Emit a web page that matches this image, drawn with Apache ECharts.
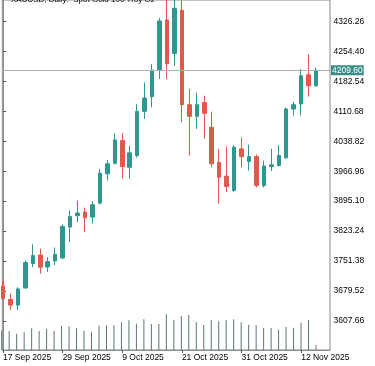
<!DOCTYPE html>
<html>
<head>
<meta charset="utf-8">
<script src="https://cdn.jsdelivr.net/npm/echarts@6/dist/echarts.min.js"></script>
<style>
html,body{margin:0;padding:0;background:#fff;}
#c{width:375px;height:366px;}
</style>
</head>
<body>
<div id="c"></div>
<script>
var dates = ['17 Sep 2025','18 Sep 2025','19 Sep 2025','22 Sep 2025','23 Sep 2025','24 Sep 2025','25 Sep 2025','26 Sep 2025','29 Sep 2025','30 Sep 2025',
  '1 Oct 2025','2 Oct 2025','3 Oct 2025','6 Oct 2025','7 Oct 2025','8 Oct 2025','9 Oct 2025','10 Oct 2025','13 Oct 2025','14 Oct 2025',
  '15 Oct 2025','16 Oct 2025','17 Oct 2025','20 Oct 2025','21 Oct 2025','22 Oct 2025','23 Oct 2025','24 Oct 2025','27 Oct 2025','28 Oct 2025',
  '29 Oct 2025','30 Oct 2025','31 Oct 2025','3 Nov 2025','4 Nov 2025','5 Nov 2025','6 Nov 2025','7 Nov 2025','10 Nov 2025','11 Nov 2025',
  '12 Nov 2025','13 Nov 2025','14 Nov 2025'];
var opens  = [3690.8,3658.9,3645.3,3686.7,3745.2,3765.8,3737.0,3751.4,3758.6,3832.8,
  3860.1,3868.8,3856.8,3890.3,3960.7,3986.1,4040.5,3976.5,4004.6,4110.7,
  4145.9,4209.8,4330.3,4249.6,4353.6,4126.7,4098.7,4132.2,4072.4,3988.5,
  3955.0,3920.7,4020.6,3990.2,4002.2,3932.7,3978.2,3980.6,3999.1,4116.4,
  4128.4,4198.6,4172.2];
var highs  = [3704.0,3673.3,3688.4,3753.1,3791.4,3781.1,3761.0,3783.5,3839.3,3872.8,
  3896.8,3879.3,3895.1,3972.7,3994.3,4058.0,4058.0,4028.5,4128.0,4180.1,
  4224.2,4335.0,4380.0,4381.0,4377.0,4164.3,4156.2,4148.3,4110.0,4020.6,
  4026.1,4030.0,4047.7,4030.9,4007.0,3992.6,4020.6,4029.7,4119.5,4134.0,
  4212.2,4248.2,4215.4];
var lows   = [3659.0,3633.3,3633.3,3683.6,3737.0,3721.2,3725.0,3741.1,3755.5,3796.9,
  3844.1,3820.8,3841.0,3887.2,3944.7,3983.0,3948.8,3948.8,3999.8,4092.5,
  4120.3,4188.3,4188.3,4220.1,4084.3,4004.6,4068.5,4044.6,3976.5,3888.9,
  3916.7,3916.7,3975.8,3968.6,3927.9,3927.9,3967.4,3978.2,3997.0,4100.4,
  4100.4,4145.9,4169.8];
var closes = [3661.3,3645.3,3684.3,3747.6,3764.3,3736.3,3749.9,3767.4,3834.5,3858.4,
  3866.4,3855.3,3886.5,3962.2,3984.7,4042.2,3978.2,4011.0,4110.7,4142.8,
  4209.8,4327.9,4225.7,4358.3,4126.7,4098.7,4126.7,4105.9,3984.7,3952.6,
  3930.3,4024.5,4002.2,4002.2,3932.7,3979.4,3982.3,4004.6,4116.4,4126.7,
  4196.2,4172.2,4209.6];
var volumes = [98000,95000,81500,88500,108500,95000,105000,95000,120000,118500,
  108500,96500,91500,121500,123500,123500,138500,148500,131500,153500,
  130000,130000,178500,151500,170000,175000,140000,125000,150000,143500,
  148500,153500,138500,126500,125000,110000,110000,101500,115000,111500,
  136500,150000,25000];
var priceTicks = [3607.66,3679.52,3751.38,3823.24,3895.10,3966.96,4038.82,4110.68,4182.54,4254.40,4326.26];
var dateTickIdx = [0,8,16,24,32,40];
var lastPrice = 4209.60;
var titleText = 'XAUUSD, Daily:  Spot Gold 100 Troy Oz';

var candleData = [];
var volData = [];
for (var i = 0; i < dates.length; i++) {
  candleData.push([i, opens[i], closes[i], lows[i], highs[i]]);
  volData.push([i, volumes[i]]);
}

var FONT = 'Liberation Sans';
var UP = '#2f978f', DOWN = '#dc5b4b';
var xMin = -0.0935, xMax = 43.87;

var chart = echarts.init(document.getElementById('c'), null, {renderer: 'canvas'});
chart.setOption({
  animation: false,
  backgroundColor: '#ffffff',
  title: {
    text: titleText, left: 6, top: -9, padding: 5,
    textStyle: {fontFamily: FONT, fontSize: 8, fontWeight: 'normal', color: '#000'}
  },
  grid: [
    {left: 1, right: 45, top: -1, bottom: 16, show: true, borderColor: '#8a8a8a', borderWidth: 1, backgroundColor: 'transparent'},
    {left: 1, right: 45, bottom: 16, height: 40}
  ],
  xAxis: [
    {
      type: 'value', gridIndex: 0, min: xMin, max: xMax,
      splitLine: {show: false},
      axisLine: {show: true, lineStyle: {color: '#8a8a8a', width: 1}},
      axisTick: {show: true, inside: false, length: 3, customValues: dateTickIdx, lineStyle: {color: '#555'}},
      axisLabel: {
        show: true, customValues: dateTickIdx, align: 'left', margin: 3,
        fontFamily: FONT, fontSize: 8.5, color: '#000',
        formatter: function (v) { return dates[Math.round(v)] || ''; }
      }
    },
    {
      type: 'value', gridIndex: 1, min: xMin, max: xMax,
      show: false
    }
  ],
  yAxis: [
    {
      type: 'value', gridIndex: 0, position: 'right', min: 3537.5, max: 4378.2, scale: true,
      splitLine: {show: false},
      axisLine: {show: true, lineStyle: {color: '#8a8a8a', width: 1}},
      axisTick: {show: true, inside: false, length: 3, customValues: priceTicks, lineStyle: {color: '#555'}},
      axisLabel: {
        show: true, customValues: priceTicks, margin: 3.5,
        fontFamily: FONT, fontSize: 8.5, color: '#000',
        formatter: function (v) { return v.toFixed(2); }
      }
    },
    {
      type: 'value', gridIndex: 1, min: 0, max: 200000, show: false
    }
  ],
  series: [
    {
      type: 'bar', xAxisIndex: 1, yAxisIndex: 1, data: volData,
      barWidth: 1, itemStyle: {color: '#5a7479'}, silent: true
    },
    {
      type: 'candlestick', xAxisIndex: 0, yAxisIndex: 0, data: candleData,
      barWidth: 4,
      itemStyle: {color: UP, color0: DOWN, borderColor: UP, borderColor0: DOWN, borderWidth: 1},
      markLine: {
        silent: true, symbol: ['none', 'none'],
        lineStyle: {color: '#a9b4b7', width: 1, type: 'solid'},
        label: {
          show: true, position: 'end', distance: 1,
          formatter: function () { return lastPrice.toFixed(2); },
          backgroundColor: '#3a8e8a', color: '#fff',
          fontFamily: FONT, fontSize: 8.5, padding: [1, 1, 0, 1]
        },
        data: [{yAxis: lastPrice}]
      }
    }
  ]
});
</script>
</body>
</html>
